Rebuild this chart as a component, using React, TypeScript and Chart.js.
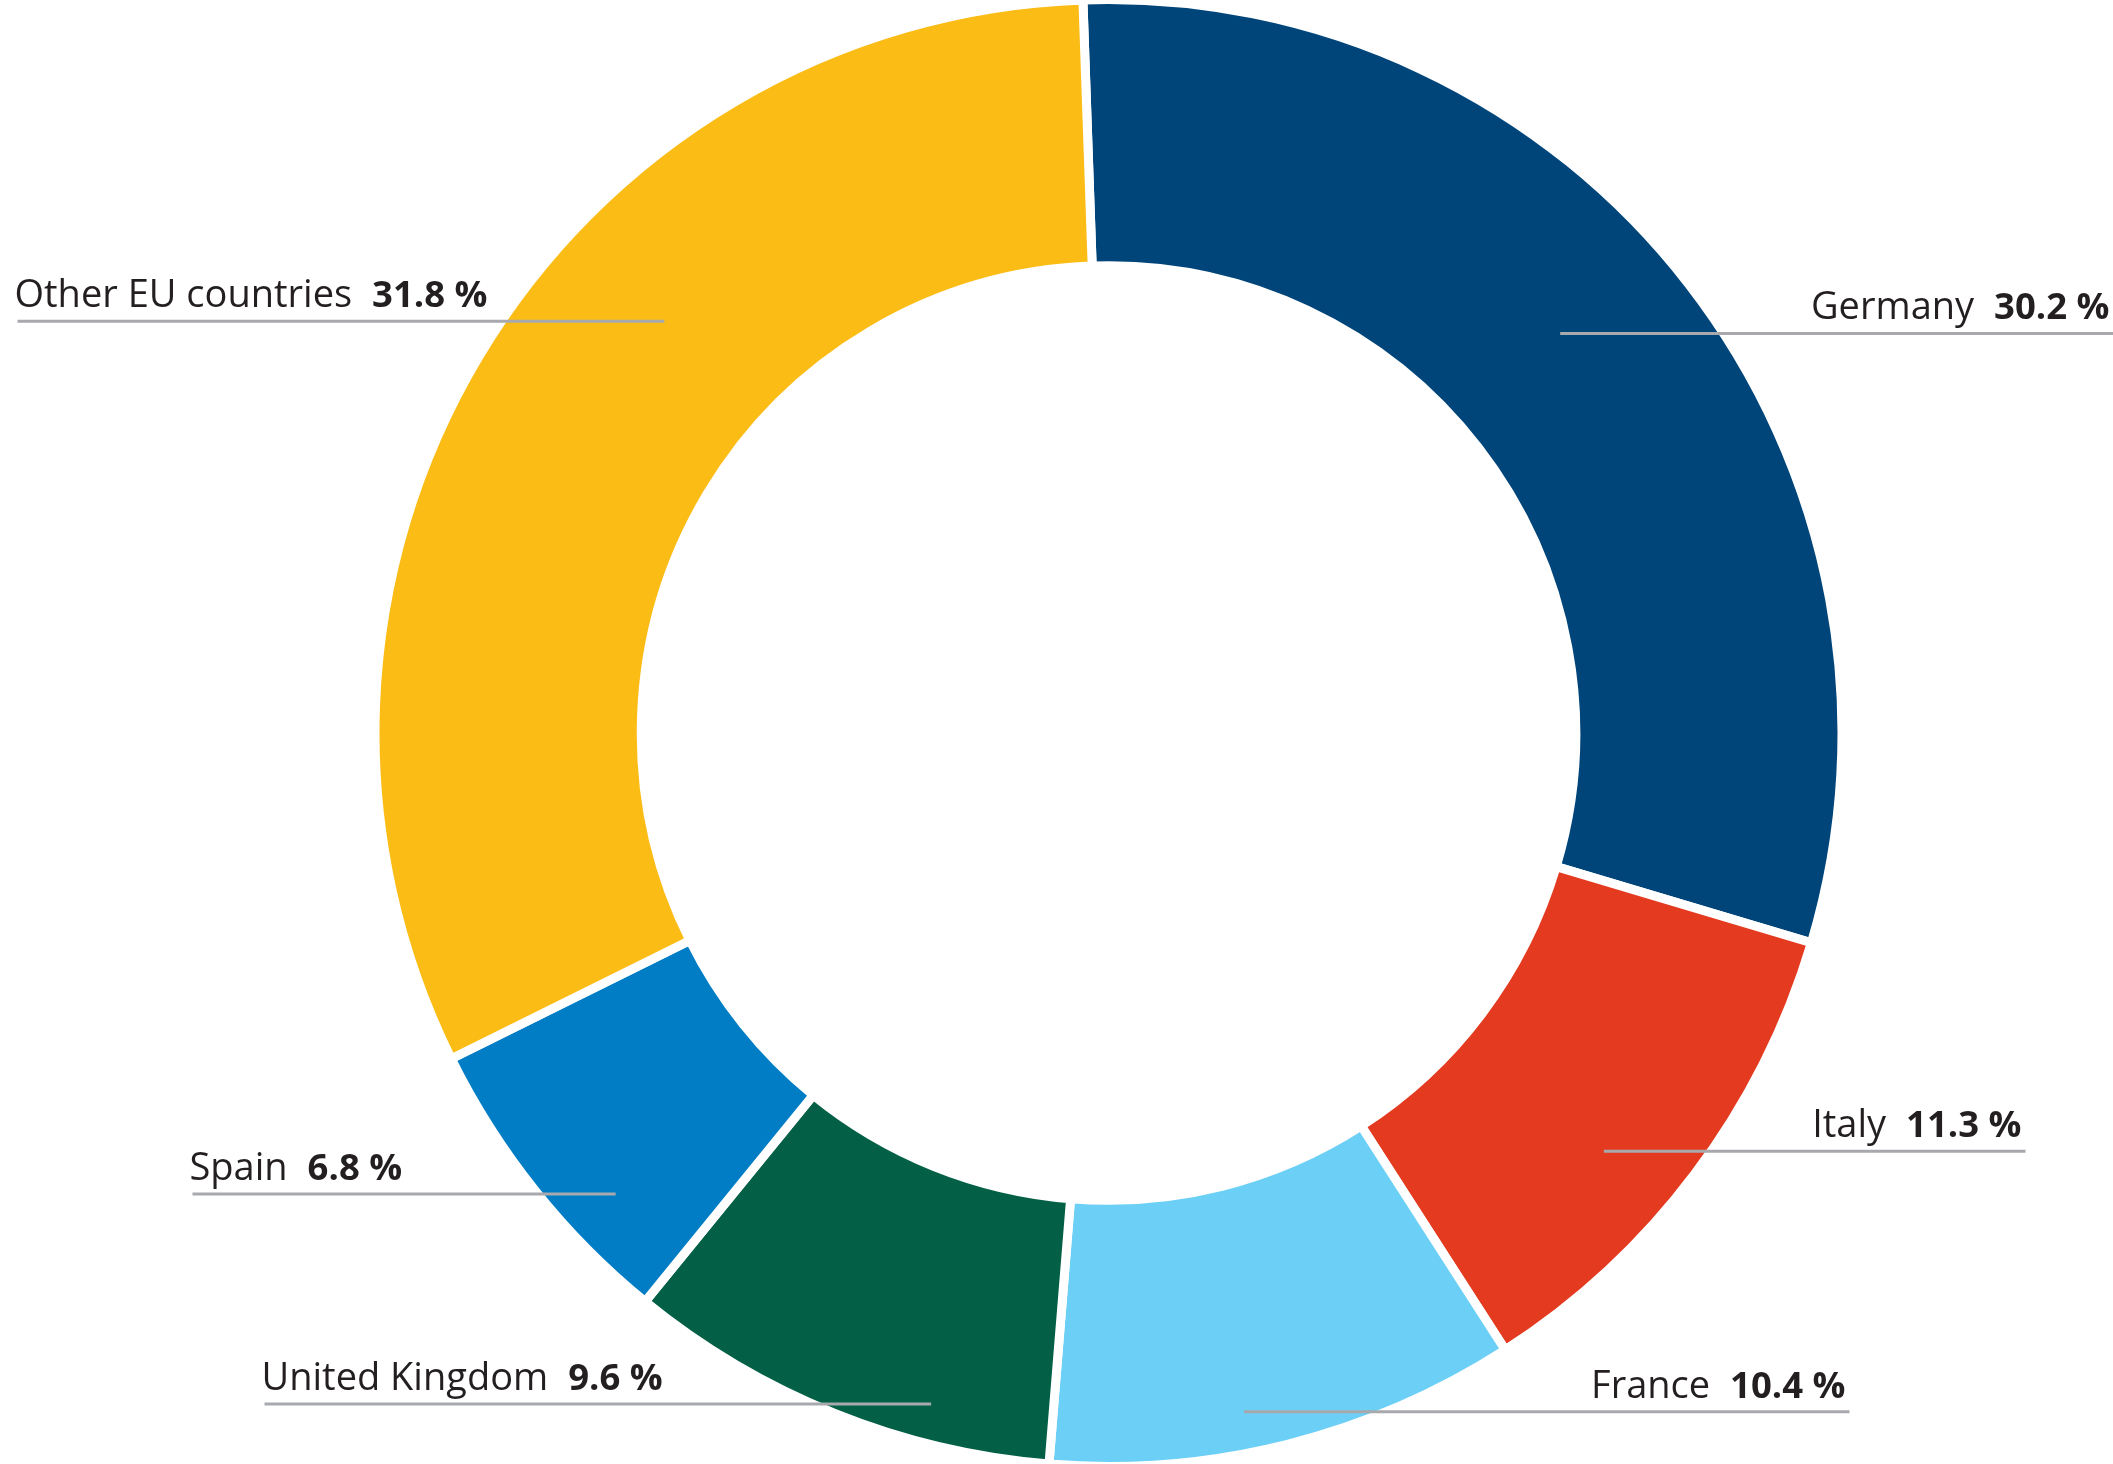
import React, { useEffect, useRef } from 'react';
import { Chart, registerables } from 'chart.js';

Chart.register(...registerables);

const categories = ['Germany', 'Italy', 'France', 'United Kingdom', 'Spain', 'Other EU countries'];
const shares = [30.2, 11.3, 10.4, 9.6, 6.8, 31.8];
const valueLabels = ['30.2 %', '11.3 %', '10.4 %', '9.6 %', '6.8 %', '31.8 %'];
const colors = ['#00457a', '#e33a20', '#6ccff6', '#035f45', '#007dc5', '#fbbc15'];

// Leader-line layout: where each line starts inside its slice (fraction of the slice angle
// and of the ring width) and how far it reaches horizontally from the chart centre.
const anchorAngleFrac = [0.465, 0.58, 0.574, 0.294, 0.316, 0.605];
const anchorRadiusFrac = [0.51, 0.68, 0.845, 0.852, 0.78, 0.52];
const lineReach = [1005, 917, 741, -844, -916, -1091];

const FONT_FAMILY = '"Open Sans", "Noto Sans", sans-serif';
const NAME_SIZE = 38;
const VALUE_SIZE = 36.5;

const leaderPlugin = {
  id: 'leaderLabels',
  afterDatasetsDraw(chart: any) {
    const ctx = chart.ctx as CanvasRenderingContext2D;
    const meta = chart.getDatasetMeta(0);
    meta.data.forEach((arc: any, i: number) => {
      const p = arc.getProps(['x', 'y', 'startAngle', 'endAngle', 'innerRadius', 'outerRadius'], true);
      const a = p.startAngle + (p.endAngle - p.startAngle) * anchorAngleFrac[i];
      const r = p.innerRadius + (p.outerRadius - p.innerRadius) * anchorRadiusFrac[i];
      const px = p.x + Math.cos(a) * r;
      const py = p.y + Math.sin(a) * r;
      const ex = p.x + lineReach[i];
      const right = lineReach[i] > 0;

      ctx.save();
      ctx.strokeStyle = '#a7a9ac';
      ctx.lineWidth = 3;
      ctx.beginPath();
      ctx.moveTo(px, py);
      ctx.lineTo(ex, py);
      ctx.stroke();

      ctx.fillStyle = '#231f20';
      ctx.textBaseline = 'alphabetic';
      ctx.textAlign = 'left';
      const nameFont = `${NAME_SIZE}px ${FONT_FAMILY}`;
      const valueFont = `bold ${VALUE_SIZE}px ${FONT_FAMILY}`;
      ctx.font = nameFont;
      const nw = ctx.measureText(categories[i]).width;
      ctx.font = valueFont;
      const vw = ctx.measureText(valueLabels[i]).width;
      const gap = 20;
      const total = nw + gap + vw;
      const tx = right ? ex - 4 - total : ex - 3;
      const ty = py - 14;
      ctx.font = nameFont;
      ctx.fillText(categories[i], tx, ty);
      ctx.font = valueFont;
      ctx.fillText(valueLabels[i], tx + nw + gap, ty);
      ctx.restore();
    });
  },
};

export default function App() {
  const canvasRef = useRef<HTMLCanvasElement | null>(null);

  useEffect(() => {
    const canvas = canvasRef.current;
    if (!canvas) return;
    const chart = new Chart(canvas, {
      type: 'doughnut',
      data: {
        labels: categories,
        datasets: [
          {
            data: shares,
            backgroundColor: colors,
            borderColor: '#ffffff',
            borderWidth: 9,
            borderJoinStyle: 'miter',
            clip: false as any,
          },
        ],
      },
      options: {
        responsive: false,
        animation: false,
        events: [],
        rotation: -2,
        radius: 733.5,
        cutout: '63.7%',
        layout: { padding: { left: 104, top: 2, right: 0, bottom: 0 } },
        plugins: {
          legend: { display: false },
          tooltip: { enabled: false },
          title: { display: false },
        },
      } as any,
      plugins: [leaderPlugin],
    });
    return () => chart.destroy();
  }, []);

  return (
    <div style={{ position: 'fixed', left: 0, top: 0, width: 2113, height: 1464, background: '#ffffff' }}>
      <canvas ref={canvasRef} width={2113} height={1464} style={{ width: 2113, height: 1464, display: 'block' }} />
    </div>
  );
}
